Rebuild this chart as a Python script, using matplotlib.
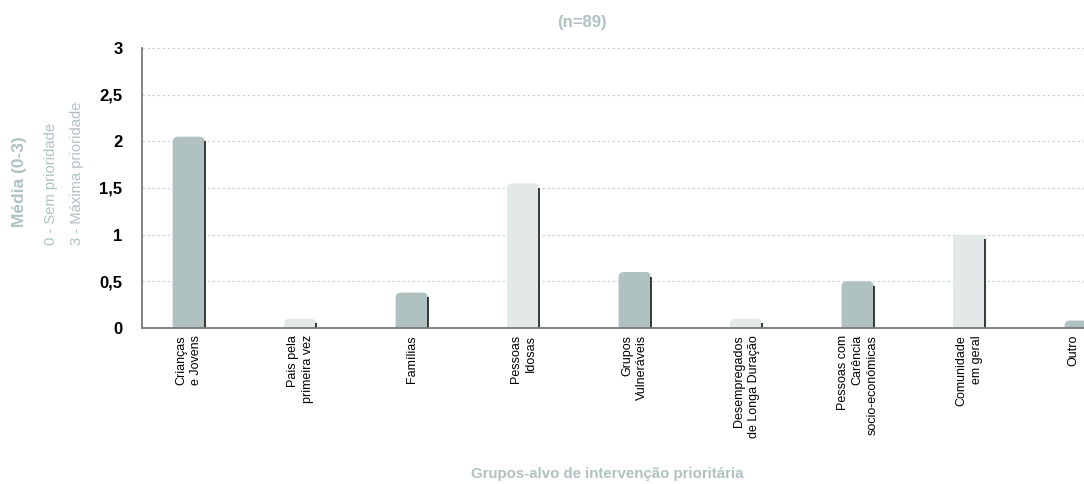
import matplotlib
matplotlib.use("Agg")
import matplotlib.pyplot as plt
import matplotlib.transforms as mtransforms
from matplotlib.patches import FancyBboxPatch
from matplotlib.ticker import FuncFormatter

plt.rcParams['font.family'] = ['Liberation Sans Narrow', 'Liberation Sans', 'DejaVu Sans']

# data
categories = ["Crianças\ne Jovens", "Pais pela\nprimeira vez", "Famílias", "Pessoas\nIdosas",
              "Grupos\nVulneráveis", "Desempregados\nde Longa Duração",
              "Pessoas com\nCarência\nsocio-económicas", "Comunidade\nem geral", "Outro"]
means = [2.05, 0.1, 0.38, 1.55, 0.6, 0.1, 0.5, 1.0, 0.08]
yticks = [0, 0.5, 1, 1.5, 2, 2.5, 3]

dark = "#b0c1c1"
light = "#e3e8e8"
label_col = "#b0c1c1"
colors = [dark if i % 2 == 0 else light for i in range(len(means))]

fig = plt.figure(figsize=(10.84, 4.84), dpi=100)
ax = fig.add_axes([142 / 1084, 1 - 328 / 484, 1 - 142 / 1084, 280 / 484])

w = 0.29
bars = ax.bar(range(len(means)), means, width=w, color=colors, zorder=2)

# swap the plain bars for ones with rounded tops (bottom corners hidden under the axis)
ppu_y = 280 / 3.0
ppu_x = 111.5
for b, c in zip(bars, colors):
    x, h = b.get_x(), b.get_height()
    b.set_visible(False)
    p = FancyBboxPatch((x, -0.1), w, h + 0.1,
                       boxstyle="round,pad=0,rounding_size=0.05",
                       mutation_aspect=ppu_x / ppu_y,
                       facecolor=c, edgecolor="none", zorder=2, clip_on=True)
    ax.add_patch(p)
    # dark shadow line on the right edge
    ax.vlines(x + w, 0, max(h - 0.05, 0), color="#2a2a2a", lw=1.3, zorder=3)

ax.set_xlim(-0.42, 8.03)
ax.set_ylim(0, 3)
ax.set_yticks(yticks)
ax.yaxis.set_major_formatter(FuncFormatter(lambda v, p: ("%g" % v).replace(".", ",")))
ax.set_xticks(range(len(categories)))
ax.set_xticklabels(categories, rotation=90, fontsize=9, va="top", ha="center",
                   multialignment="right", linespacing=1.3)
for t in ax.get_yticklabels():
    t.set_fontweight("bold")
    t.set_fontsize(12)
ax.tick_params(axis="y", length=0, pad=14)
ax.tick_params(axis="x", length=0, pad=5)

# last label sits a bit left so it stays inside the picture
last = ax.get_xticklabels()[-1]
last.set_transform(last.get_transform() +
                   mtransforms.ScaledTranslation(-7 / 100, 0, fig.dpi_scale_trans))

ax.grid(axis="y", linestyle=(0, (2, 2)), color="#c9d5d5", lw=0.9, zorder=0)
for s in ["top", "right"]:
    ax.spines[s].set_visible(False)
for s in ["left", "bottom"]:
    ax.spines[s].set_color("#7a7a7a")
    ax.spines[s].set_linewidth(1.3)
    ax.spines[s].set_zorder(4)

fig.text(582 / 1084, 1 - 22 / 484, "(n=89)", ha="center", va="center",
         fontsize=12, fontweight="bold", color=label_col)
fig.text(607 / 1084, 1 - 474 / 484, "Grupos-alvo de intervenção prioritária",
         ha="center", va="center", fontsize=10.8, fontweight="bold", color=label_col)
fig.text(20 / 1084, 1 - 182 / 484, "Média (0-3)", rotation=90, ha="center", va="center",
         fontsize=12.5, fontweight="bold", color=label_col)
fig.text(64 / 1084, 1 - 245 / 484, "0 - Sem prioridade\n3 - Máxima prioridade",
         rotation=90, ha="center", va="bottom", multialignment="left",
         fontsize=10.6, color=label_col, linespacing=2.0)

fig.savefig("out.png", dpi=100)
